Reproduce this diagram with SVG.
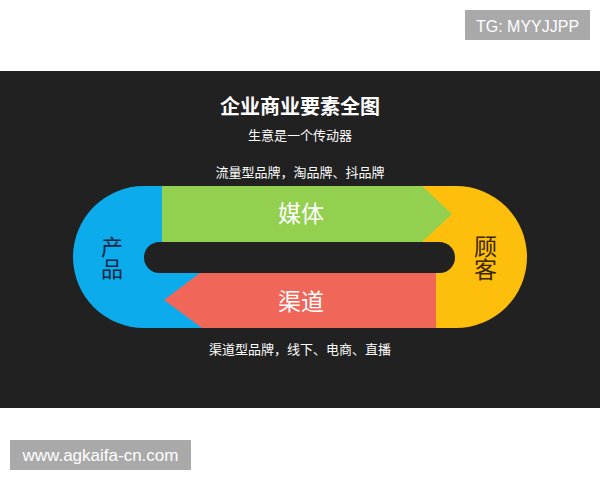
<svg xmlns="http://www.w3.org/2000/svg" width="600" height="480" viewBox="0 0 600 480">
  <style>
    .cjk { font-family: "Noto Sans CJK SC", "Noto Sans", sans-serif; }
    .lat { font-family: "Liberation Sans", Arial, sans-serif; }
    .wt { fill: #ffffff; }
    .vert { writing-mode: vertical-rl; text-anchor: middle; }
  </style>
  <defs>
    <clipPath id="capsule">
      <rect x="73" y="186" width="454" height="142" rx="71" ry="71"/>
    </clipPath>
  </defs>
  <rect x="0" y="0" width="600" height="480" fill="#ffffff"/>
  <g id="tg-badge">
    <rect x="465" y="10" width="125" height="30" fill="#a9a9a9"/>
    <text x="527.5" y="31.5" class="lat wt" font-size="16" text-anchor="middle">TG: MYYJJPP</text>
  </g>
  <rect x="0" y="71" width="600" height="337" fill="#212121"/>
  <g id="titles" class="cjk wt" text-anchor="middle">
    <text x="300" y="114" font-size="20" font-weight="bold">企业商业要素全图</text>
    <text x="300" y="140" font-size="13">生意是一个传动器</text>
    <text x="300" y="177" font-size="13">流量型品牌，淘品牌、抖品牌</text>
    <text x="300" y="354" font-size="13">渠道型品牌，线下、电商、直播</text>
  </g>
  <g clip-path="url(#capsule)">
    <g id="product">
      <rect x="73" y="186" width="230" height="142" fill="#0cabeb"/>
    </g>
    <g id="customer">
      <rect x="300" y="186" width="227" height="142" fill="#fdbf0c"/>
    </g>
    <g id="media">
      <polygon points="162,186 422,186 452,214 422,242 162,242" fill="#93d050"/>
    </g>
    <g id="channel">
      <polygon points="436,273 436,328 202,328 164,300 200,273" fill="#f0675a"/>
    </g>
  </g>
  <rect x="144" y="242" width="311" height="31" rx="15.5" ry="15.5" fill="#212121"/>
  <g id="labels" class="cjk" text-anchor="middle">
    <text x="301" y="222" font-size="23" class="wt">媒体</text>
    <text x="301" y="310" font-size="23" class="wt">渠道</text>
    <text x="112" y="258" font-size="22" fill="#0d2540" class="vert">产品</text>
    <text x="485.5" y="258" font-size="23" fill="#3a2600" class="vert">顾客</text>
  </g>
  <g id="connectors"></g>
  <g id="site-badge">
    <rect x="10" y="440" width="181" height="30" fill="#a9a9a9"/>
    <text x="100.5" y="461" class="lat wt" font-size="17" text-anchor="middle">www.agkaifa-cn.com</text>
  </g>
</svg>
